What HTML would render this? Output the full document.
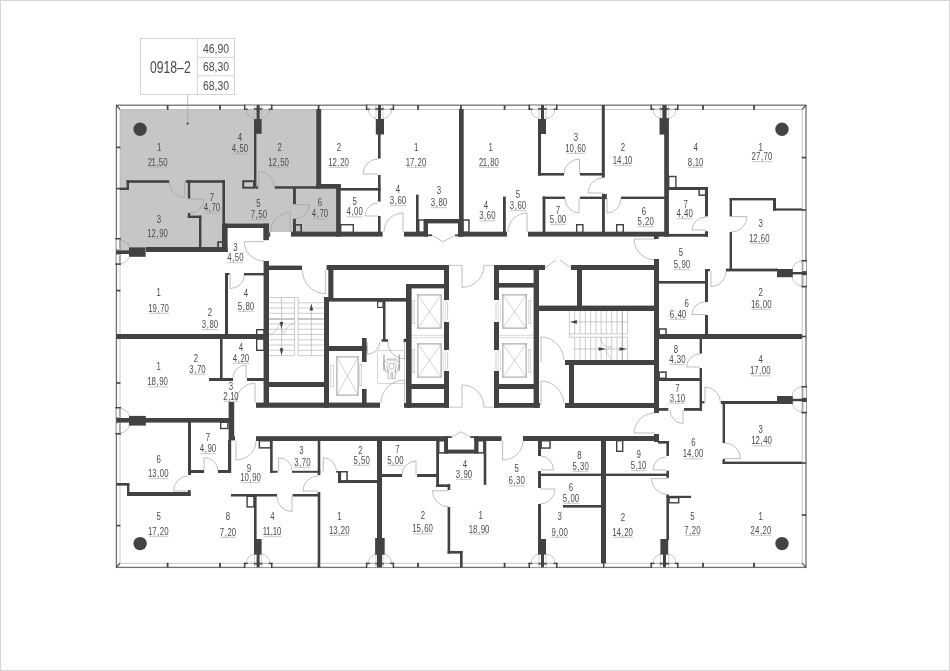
<!DOCTYPE html>
<html lang="ru"><head><meta charset="utf-8"><title>0918-2</title>
<style>
html,body{margin:0;padding:0;background:#fff;}
body{width:950px;height:671px;overflow:hidden;position:relative;font-family:"Liberation Sans",sans-serif;}
svg{position:absolute;left:0;top:0;display:block;will-change:transform;}
svg text{font-family:"Liberation Sans",sans-serif;}
</style></head><body>
<svg width="950" height="671" viewBox="0 0 950 671">
<rect x="0.0" y="0.0" width="950.0" height="671.0" fill="#ffffff"/>
<rect x="0.5" y="0.5" width="949" height="670" fill="none" stroke="#d4d4d4" stroke-width="1"/>
<path d="M120 109.4H317V186H336V232H268V224H226V248H130V250.6H120Z" fill="#c6c6c6"/>
<rect x="116.4" y="105.2" width="689.6" height="462.2" fill="none" stroke="#707070" stroke-width="1.3"/>
<rect x="120" y="109.4" width="682.2" height="453.80000000000007" fill="none" stroke="#b0b0b0" stroke-width="0.7"/>
<line x1="116.4" y1="105.2" x2="120.0" y2="109.4" stroke="#424242" stroke-width="1.2"/>
<line x1="806.0" y1="105.2" x2="802.2" y2="109.4" stroke="#424242" stroke-width="1.2"/>
<line x1="116.4" y1="567.4" x2="120.0" y2="563.2" stroke="#424242" stroke-width="1.2"/>
<line x1="806.0" y1="567.4" x2="802.2" y2="563.2" stroke="#424242" stroke-width="1.2"/>
<rect x="166.7" y="105.2" width="1.8" height="4.6" fill="#424242"/>
<rect x="166.7" y="562.8" width="1.8" height="4.6" fill="#424242"/>
<rect x="219.1" y="105.2" width="1.8" height="4.6" fill="#424242"/>
<rect x="219.1" y="562.8" width="1.8" height="4.6" fill="#424242"/>
<rect x="317.7" y="105.2" width="1.8" height="4.6" fill="#424242"/>
<rect x="317.7" y="562.8" width="1.8" height="4.6" fill="#424242"/>
<rect x="417.1" y="105.2" width="1.8" height="4.6" fill="#424242"/>
<rect x="417.1" y="562.8" width="1.8" height="4.6" fill="#424242"/>
<rect x="460.1" y="105.2" width="1.8" height="4.6" fill="#424242"/>
<rect x="460.1" y="562.8" width="1.8" height="4.6" fill="#424242"/>
<rect x="503.7" y="105.2" width="1.8" height="4.6" fill="#424242"/>
<rect x="503.7" y="562.8" width="1.8" height="4.6" fill="#424242"/>
<rect x="702.1" y="105.2" width="1.8" height="4.6" fill="#424242"/>
<rect x="702.1" y="562.8" width="1.8" height="4.6" fill="#424242"/>
<rect x="753.1" y="105.2" width="1.8" height="4.6" fill="#424242"/>
<rect x="753.1" y="562.8" width="1.8" height="4.6" fill="#424242"/>
<rect x="116.4" y="146.6" width="4.0" height="1.6" fill="#424242"/>
<rect x="116.4" y="187.8" width="4.0" height="1.6" fill="#424242"/>
<rect x="116.4" y="289.8" width="4.0" height="1.6" fill="#424242"/>
<rect x="116.4" y="335.2" width="4.0" height="1.6" fill="#424242"/>
<rect x="116.4" y="382.2" width="4.0" height="1.6" fill="#424242"/>
<rect x="116.4" y="483.2" width="4.0" height="1.6" fill="#424242"/>
<rect x="116.4" y="524.8" width="4.0" height="1.6" fill="#424242"/>
<rect x="801.8" y="156.8" width="4.2" height="1.6" fill="#424242"/>
<rect x="801.8" y="209.2" width="4.2" height="1.6" fill="#424242"/>
<rect x="801.8" y="335.7" width="4.2" height="1.6" fill="#424242"/>
<rect x="801.8" y="462.2" width="4.2" height="1.6" fill="#424242"/>
<rect x="801.8" y="514.2" width="4.2" height="1.6" fill="#424242"/>
<rect x="243.9" y="104.6" width="1.7" height="5.2" fill="#424242"/>
<rect x="270.8" y="104.6" width="1.7" height="5.2" fill="#424242"/>
<rect x="245.6" y="105.2" width="25.2" height="4.0" fill="#fff"/>
<rect x="245.6" y="108.8" width="25.2" height="1.0" fill="#b8b8b8"/>
<rect x="243.9" y="108.5" width="3.9" height="1.3" fill="#424242"/>
<rect x="268.6" y="108.5" width="3.9" height="1.3" fill="#424242"/>
<rect x="253.8" y="108.0" width="8.6" height="1.8" fill="#505050"/>
<rect x="245.6" y="104.6" width="25.2" height="1.0" fill="#9a9a9a"/>
<rect x="254.2" y="105.6" width="0.8" height="3.2" fill="#b0b0b0"/>
<rect x="261.2" y="105.6" width="0.8" height="3.2" fill="#b0b0b0"/>
<path d="M246.4 109.7A8.6 8.6 0 0 0 254.6 118.3" fill="none" stroke="#a0a0a0" stroke-width="0.6"/>
<path d="M270.0 109.7A8.6 8.6 0 0 1 261.6 118.3" fill="none" stroke="#a0a0a0" stroke-width="0.6"/>
<line x1="254.6" y1="109.7" x2="254.6" y2="119.3" stroke="#b0b0b0" stroke-width="0.6"/>
<line x1="261.6" y1="109.7" x2="261.6" y2="119.3" stroke="#b0b0b0" stroke-width="0.6"/>
<rect x="243.9" y="562.8" width="1.7" height="5.2" fill="#424242"/>
<rect x="270.8" y="562.8" width="1.7" height="5.2" fill="#424242"/>
<rect x="245.6" y="563.4" width="25.2" height="4.0" fill="#fff"/>
<rect x="245.6" y="562.8" width="25.2" height="1.0" fill="#b8b8b8"/>
<rect x="243.9" y="562.8" width="3.9" height="1.3" fill="#424242"/>
<rect x="268.6" y="562.8" width="3.9" height="1.3" fill="#424242"/>
<rect x="253.8" y="562.8" width="8.6" height="1.8" fill="#505050"/>
<rect x="245.6" y="567.0" width="25.2" height="1.0" fill="#9a9a9a"/>
<rect x="254.2" y="563.8" width="0.8" height="3.2" fill="#b0b0b0"/>
<rect x="261.2" y="563.8" width="0.8" height="3.2" fill="#b0b0b0"/>
<path d="M246.4 562.9000000000001A8.6 8.6 0 0 1 254.6 554.3" fill="none" stroke="#a0a0a0" stroke-width="0.6"/>
<path d="M270.0 562.9000000000001A8.6 8.6 0 0 0 261.6 554.3" fill="none" stroke="#a0a0a0" stroke-width="0.6"/>
<line x1="254.6" y1="562.9" x2="254.6" y2="553.3" stroke="#b0b0b0" stroke-width="0.6"/>
<line x1="261.6" y1="562.9" x2="261.6" y2="553.3" stroke="#b0b0b0" stroke-width="0.6"/>
<rect x="365.9" y="104.6" width="1.7" height="5.2" fill="#424242"/>
<rect x="392.4" y="104.6" width="1.7" height="5.2" fill="#424242"/>
<rect x="367.6" y="105.2" width="24.8" height="4.0" fill="#fff"/>
<rect x="367.6" y="108.8" width="24.8" height="1.0" fill="#b8b8b8"/>
<rect x="365.9" y="108.5" width="3.9" height="1.3" fill="#424242"/>
<rect x="390.2" y="108.5" width="3.9" height="1.3" fill="#424242"/>
<rect x="375.2" y="108.0" width="8.6" height="1.8" fill="#505050"/>
<rect x="367.6" y="104.6" width="24.8" height="1.0" fill="#9a9a9a"/>
<rect x="375.6" y="105.6" width="0.8" height="3.2" fill="#b0b0b0"/>
<rect x="382.6" y="105.6" width="0.8" height="3.2" fill="#b0b0b0"/>
<path d="M368.4 109.7A8.6 8.6 0 0 0 376.0 118.3" fill="none" stroke="#a0a0a0" stroke-width="0.6"/>
<path d="M391.6 109.7A8.6 8.6 0 0 1 383.0 118.3" fill="none" stroke="#a0a0a0" stroke-width="0.6"/>
<line x1="376.0" y1="109.7" x2="376.0" y2="119.3" stroke="#b0b0b0" stroke-width="0.6"/>
<line x1="383.0" y1="109.7" x2="383.0" y2="119.3" stroke="#b0b0b0" stroke-width="0.6"/>
<rect x="365.9" y="562.8" width="1.7" height="5.2" fill="#424242"/>
<rect x="392.4" y="562.8" width="1.7" height="5.2" fill="#424242"/>
<rect x="367.6" y="563.4" width="24.8" height="4.0" fill="#fff"/>
<rect x="367.6" y="562.8" width="24.8" height="1.0" fill="#b8b8b8"/>
<rect x="365.9" y="562.8" width="3.9" height="1.3" fill="#424242"/>
<rect x="390.2" y="562.8" width="3.9" height="1.3" fill="#424242"/>
<rect x="375.2" y="562.8" width="8.6" height="1.8" fill="#505050"/>
<rect x="367.6" y="567.0" width="24.8" height="1.0" fill="#9a9a9a"/>
<rect x="375.6" y="563.8" width="0.8" height="3.2" fill="#b0b0b0"/>
<rect x="382.6" y="563.8" width="0.8" height="3.2" fill="#b0b0b0"/>
<path d="M368.4 562.9000000000001A8.6 8.6 0 0 1 376.0 554.3" fill="none" stroke="#a0a0a0" stroke-width="0.6"/>
<path d="M391.6 562.9000000000001A8.6 8.6 0 0 0 383.0 554.3" fill="none" stroke="#a0a0a0" stroke-width="0.6"/>
<line x1="376.0" y1="562.9" x2="376.0" y2="553.3" stroke="#b0b0b0" stroke-width="0.6"/>
<line x1="383.0" y1="562.9" x2="383.0" y2="553.3" stroke="#b0b0b0" stroke-width="0.6"/>
<rect x="528.5" y="104.6" width="1.7" height="5.2" fill="#424242"/>
<rect x="555.8" y="104.6" width="1.7" height="5.2" fill="#424242"/>
<rect x="530.2" y="105.2" width="25.6" height="4.0" fill="#fff"/>
<rect x="530.2" y="108.8" width="25.6" height="1.0" fill="#b8b8b8"/>
<rect x="528.5" y="108.5" width="3.9" height="1.3" fill="#424242"/>
<rect x="553.6" y="108.5" width="3.9" height="1.3" fill="#424242"/>
<rect x="538.2" y="108.0" width="8.6" height="1.8" fill="#505050"/>
<rect x="530.2" y="104.6" width="25.6" height="1.0" fill="#9a9a9a"/>
<rect x="538.6" y="105.6" width="0.8" height="3.2" fill="#b0b0b0"/>
<rect x="545.6" y="105.6" width="0.8" height="3.2" fill="#b0b0b0"/>
<path d="M531.0 109.7A8.6 8.6 0 0 0 539.0 118.3" fill="none" stroke="#a0a0a0" stroke-width="0.6"/>
<path d="M555.0 109.7A8.6 8.6 0 0 1 546.0 118.3" fill="none" stroke="#a0a0a0" stroke-width="0.6"/>
<line x1="539.0" y1="109.7" x2="539.0" y2="119.3" stroke="#b0b0b0" stroke-width="0.6"/>
<line x1="546.0" y1="109.7" x2="546.0" y2="119.3" stroke="#b0b0b0" stroke-width="0.6"/>
<rect x="528.5" y="562.8" width="1.7" height="5.2" fill="#424242"/>
<rect x="555.8" y="562.8" width="1.7" height="5.2" fill="#424242"/>
<rect x="530.2" y="563.4" width="25.6" height="4.0" fill="#fff"/>
<rect x="530.2" y="562.8" width="25.6" height="1.0" fill="#b8b8b8"/>
<rect x="528.5" y="562.8" width="3.9" height="1.3" fill="#424242"/>
<rect x="553.6" y="562.8" width="3.9" height="1.3" fill="#424242"/>
<rect x="538.2" y="562.8" width="8.6" height="1.8" fill="#505050"/>
<rect x="530.2" y="567.0" width="25.6" height="1.0" fill="#9a9a9a"/>
<rect x="538.6" y="563.8" width="0.8" height="3.2" fill="#b0b0b0"/>
<rect x="545.6" y="563.8" width="0.8" height="3.2" fill="#b0b0b0"/>
<path d="M531.0 562.9000000000001A8.6 8.6 0 0 1 539.0 554.3" fill="none" stroke="#a0a0a0" stroke-width="0.6"/>
<path d="M555.0 562.9000000000001A8.6 8.6 0 0 0 546.0 554.3" fill="none" stroke="#a0a0a0" stroke-width="0.6"/>
<line x1="539.0" y1="562.9" x2="539.0" y2="553.3" stroke="#b0b0b0" stroke-width="0.6"/>
<line x1="546.0" y1="562.9" x2="546.0" y2="553.3" stroke="#b0b0b0" stroke-width="0.6"/>
<rect x="650.5" y="104.6" width="1.7" height="5.2" fill="#424242"/>
<rect x="676.8" y="104.6" width="1.7" height="5.2" fill="#424242"/>
<rect x="652.2" y="105.2" width="24.6" height="4.0" fill="#fff"/>
<rect x="652.2" y="108.8" width="24.6" height="1.0" fill="#b8b8b8"/>
<rect x="650.5" y="108.5" width="3.9" height="1.3" fill="#424242"/>
<rect x="674.6" y="108.5" width="3.9" height="1.3" fill="#424242"/>
<rect x="659.6" y="108.0" width="9.8" height="1.8" fill="#505050"/>
<rect x="652.2" y="104.6" width="24.6" height="1.0" fill="#9a9a9a"/>
<rect x="660.0" y="105.6" width="0.8" height="3.2" fill="#b0b0b0"/>
<rect x="668.2" y="105.6" width="0.8" height="3.2" fill="#b0b0b0"/>
<path d="M653.0 109.7A8.6 8.6 0 0 0 660.4 118.3" fill="none" stroke="#a0a0a0" stroke-width="0.6"/>
<path d="M676.0 109.7A8.6 8.6 0 0 1 668.6 118.3" fill="none" stroke="#a0a0a0" stroke-width="0.6"/>
<line x1="660.4" y1="109.7" x2="660.4" y2="119.3" stroke="#b0b0b0" stroke-width="0.6"/>
<line x1="668.6" y1="109.7" x2="668.6" y2="119.3" stroke="#b0b0b0" stroke-width="0.6"/>
<rect x="650.5" y="562.8" width="1.7" height="5.2" fill="#424242"/>
<rect x="676.8" y="562.8" width="1.7" height="5.2" fill="#424242"/>
<rect x="652.2" y="563.4" width="24.6" height="4.0" fill="#fff"/>
<rect x="652.2" y="562.8" width="24.6" height="1.0" fill="#b8b8b8"/>
<rect x="650.5" y="562.8" width="3.9" height="1.3" fill="#424242"/>
<rect x="674.6" y="562.8" width="3.9" height="1.3" fill="#424242"/>
<rect x="659.6" y="562.8" width="9.8" height="1.8" fill="#505050"/>
<rect x="652.2" y="567.0" width="24.6" height="1.0" fill="#9a9a9a"/>
<rect x="660.0" y="563.8" width="0.8" height="3.2" fill="#b0b0b0"/>
<rect x="668.2" y="563.8" width="0.8" height="3.2" fill="#b0b0b0"/>
<path d="M653.0 562.9000000000001A8.6 8.6 0 0 1 660.4 554.3" fill="none" stroke="#a0a0a0" stroke-width="0.6"/>
<path d="M676.0 562.9000000000001A8.6 8.6 0 0 0 668.6 554.3" fill="none" stroke="#a0a0a0" stroke-width="0.6"/>
<line x1="660.4" y1="562.9" x2="660.4" y2="553.3" stroke="#b0b0b0" stroke-width="0.6"/>
<line x1="668.6" y1="562.9" x2="668.6" y2="553.3" stroke="#b0b0b0" stroke-width="0.6"/>
<line x1="269.0" y1="297.5" x2="294.6" y2="297.5" stroke="#aaaaaa" stroke-width="0.6"/>
<line x1="269.0" y1="302.8" x2="294.6" y2="302.8" stroke="#aaaaaa" stroke-width="0.6"/>
<line x1="298.2" y1="302.8" x2="323.6" y2="302.8" stroke="#aaaaaa" stroke-width="0.6"/>
<line x1="269.0" y1="308.1" x2="294.6" y2="308.1" stroke="#aaaaaa" stroke-width="0.6"/>
<line x1="298.2" y1="308.1" x2="323.6" y2="308.1" stroke="#aaaaaa" stroke-width="0.6"/>
<line x1="269.0" y1="313.3" x2="294.6" y2="313.3" stroke="#aaaaaa" stroke-width="0.6"/>
<line x1="298.2" y1="313.3" x2="323.6" y2="313.3" stroke="#aaaaaa" stroke-width="0.6"/>
<line x1="269.0" y1="318.6" x2="294.6" y2="318.6" stroke="#aaaaaa" stroke-width="0.6"/>
<line x1="298.2" y1="318.6" x2="323.6" y2="318.6" stroke="#aaaaaa" stroke-width="0.6"/>
<line x1="269.0" y1="323.9" x2="294.6" y2="323.9" stroke="#aaaaaa" stroke-width="0.6"/>
<line x1="298.2" y1="323.9" x2="323.6" y2="323.9" stroke="#aaaaaa" stroke-width="0.6"/>
<line x1="269.0" y1="329.2" x2="294.6" y2="329.2" stroke="#aaaaaa" stroke-width="0.6"/>
<line x1="298.2" y1="329.2" x2="323.6" y2="329.2" stroke="#aaaaaa" stroke-width="0.6"/>
<line x1="269.0" y1="334.5" x2="294.6" y2="334.5" stroke="#aaaaaa" stroke-width="0.6"/>
<line x1="298.2" y1="334.5" x2="323.6" y2="334.5" stroke="#aaaaaa" stroke-width="0.6"/>
<line x1="269.0" y1="339.8" x2="294.6" y2="339.8" stroke="#aaaaaa" stroke-width="0.6"/>
<line x1="298.2" y1="339.8" x2="323.6" y2="339.8" stroke="#aaaaaa" stroke-width="0.6"/>
<line x1="269.0" y1="345.0" x2="294.6" y2="345.0" stroke="#aaaaaa" stroke-width="0.6"/>
<line x1="298.2" y1="345.0" x2="323.6" y2="345.0" stroke="#aaaaaa" stroke-width="0.6"/>
<line x1="269.0" y1="350.3" x2="294.6" y2="350.3" stroke="#aaaaaa" stroke-width="0.6"/>
<line x1="298.2" y1="350.3" x2="323.6" y2="350.3" stroke="#aaaaaa" stroke-width="0.6"/>
<line x1="269.0" y1="355.6" x2="294.6" y2="355.6" stroke="#aaaaaa" stroke-width="0.6"/>
<line x1="298.2" y1="355.6" x2="323.6" y2="355.6" stroke="#aaaaaa" stroke-width="0.6"/>
<line x1="294.6" y1="297.5" x2="298.2" y2="297.5" stroke="#aaaaaa" stroke-width="0.6"/>
<line x1="294.6" y1="297.5" x2="294.6" y2="355.6" stroke="#aaaaaa" stroke-width="0.6"/>
<line x1="298.2" y1="297.5" x2="298.2" y2="355.6" stroke="#aaaaaa" stroke-width="0.6"/>
<line x1="281.5" y1="297.5" x2="281.5" y2="355.6" stroke="#aaaaaa" stroke-width="0.6"/>
<line x1="311.4" y1="308.0" x2="311.4" y2="355.6" stroke="#aaaaaa" stroke-width="0.6"/>
<line x1="269.0" y1="319.3" x2="294.6" y2="319.3" stroke="#aaaaaa" stroke-width="0.8"/>
<line x1="298.2" y1="319.3" x2="323.6" y2="319.3" stroke="#aaaaaa" stroke-width="0.8"/>
<path d="M269.5 334.5Q277 332 278.5 326Q280 320 281.5 328Q283 336 284 333Q286 326 294.6 323.2" fill="none" stroke="#a0a0a0" stroke-width="0.5"/>
<polygon points="279.7,322.0 283.3,322.0 281.5,328.8" fill="#424242"/>
<polygon points="279.7,348.2 283.3,348.2 281.5,355.4" fill="#424242"/>
<polygon points="309.6,310.6 313.2,310.6 311.4,303.4" fill="#424242"/>
<line x1="569.4" y1="311.0" x2="569.4" y2="333.9" stroke="#aaaaaa" stroke-width="0.6"/>
<line x1="574.7" y1="311.0" x2="574.7" y2="333.9" stroke="#aaaaaa" stroke-width="0.6"/>
<line x1="574.7" y1="337.2" x2="574.7" y2="360.0" stroke="#aaaaaa" stroke-width="0.6"/>
<line x1="580.0" y1="311.0" x2="580.0" y2="333.9" stroke="#aaaaaa" stroke-width="0.6"/>
<line x1="580.0" y1="337.2" x2="580.0" y2="360.0" stroke="#aaaaaa" stroke-width="0.6"/>
<line x1="585.3" y1="311.0" x2="585.3" y2="333.9" stroke="#aaaaaa" stroke-width="0.6"/>
<line x1="585.3" y1="337.2" x2="585.3" y2="360.0" stroke="#aaaaaa" stroke-width="0.6"/>
<line x1="590.6" y1="311.0" x2="590.6" y2="333.9" stroke="#aaaaaa" stroke-width="0.6"/>
<line x1="590.6" y1="337.2" x2="590.6" y2="360.0" stroke="#aaaaaa" stroke-width="0.6"/>
<line x1="595.9" y1="311.0" x2="595.9" y2="333.9" stroke="#aaaaaa" stroke-width="0.6"/>
<line x1="595.9" y1="337.2" x2="595.9" y2="360.0" stroke="#aaaaaa" stroke-width="0.6"/>
<line x1="601.1" y1="311.0" x2="601.1" y2="333.9" stroke="#aaaaaa" stroke-width="0.6"/>
<line x1="601.1" y1="337.2" x2="601.1" y2="360.0" stroke="#aaaaaa" stroke-width="0.6"/>
<line x1="606.4" y1="311.0" x2="606.4" y2="333.9" stroke="#aaaaaa" stroke-width="0.6"/>
<line x1="606.4" y1="337.2" x2="606.4" y2="360.0" stroke="#aaaaaa" stroke-width="0.6"/>
<line x1="611.7" y1="311.0" x2="611.7" y2="333.9" stroke="#aaaaaa" stroke-width="0.6"/>
<line x1="611.7" y1="337.2" x2="611.7" y2="360.0" stroke="#aaaaaa" stroke-width="0.6"/>
<line x1="617.0" y1="311.0" x2="617.0" y2="333.9" stroke="#aaaaaa" stroke-width="0.6"/>
<line x1="617.0" y1="337.2" x2="617.0" y2="360.0" stroke="#aaaaaa" stroke-width="0.6"/>
<line x1="622.3" y1="311.0" x2="622.3" y2="333.9" stroke="#aaaaaa" stroke-width="0.6"/>
<line x1="622.3" y1="337.2" x2="622.3" y2="360.0" stroke="#aaaaaa" stroke-width="0.6"/>
<line x1="627.6" y1="311.0" x2="627.6" y2="333.9" stroke="#aaaaaa" stroke-width="0.6"/>
<line x1="627.6" y1="337.2" x2="627.6" y2="360.0" stroke="#aaaaaa" stroke-width="0.6"/>
<line x1="569.4" y1="333.9" x2="627.6" y2="333.9" stroke="#aaaaaa" stroke-width="0.6"/>
<line x1="569.4" y1="337.2" x2="627.6" y2="337.2" stroke="#aaaaaa" stroke-width="0.6"/>
<line x1="569.4" y1="333.9" x2="569.4" y2="337.2" stroke="#aaaaaa" stroke-width="0.6"/>
<line x1="577.0" y1="321.9" x2="627.6" y2="321.9" stroke="#aaaaaa" stroke-width="0.6"/>
<line x1="574.3" y1="349.0" x2="627.6" y2="349.0" stroke="#aaaaaa" stroke-width="0.6"/>
<line x1="622.3" y1="311.0" x2="622.3" y2="360.0" stroke="#aaaaaa" stroke-width="0.9"/>
<path d="M600.2 337.2Q602 343 604 345.5Q608 347.5 611.6 346.4Q607 349 605.8 351Q609 354 611 360" fill="none" stroke="#a0a0a0" stroke-width="0.5"/>
<polygon points="576.9,320.1 576.9,323.7 569.9,321.9" fill="#424242"/>
<polygon points="598.6,347.2 598.6,350.8 605.9,349.0" fill="#424242"/>
<polygon points="619.5,347.2 619.5,350.8 626.8,349.0" fill="#424242"/>
<rect x="417.30" y="294.30" width="24.40" height="34.40" fill="none" stroke="#9a9a9a" stroke-width="0.6"/>
<rect x="418.25" y="295.25" width="22.50" height="32.50" fill="none" stroke="#b0b0b0" stroke-width="0.5"/>
<line x1="418.0" y1="295.0" x2="441.0" y2="328.0" stroke="#a5a5a5" stroke-width="0.5"/>
<line x1="441.0" y1="295.0" x2="418.0" y2="328.0" stroke="#a5a5a5" stroke-width="0.5"/>
<rect x="417.30" y="343.30" width="24.40" height="34.40" fill="none" stroke="#9a9a9a" stroke-width="0.6"/>
<rect x="418.25" y="344.25" width="22.50" height="32.50" fill="none" stroke="#b0b0b0" stroke-width="0.5"/>
<line x1="418.0" y1="344.0" x2="441.0" y2="377.0" stroke="#a5a5a5" stroke-width="0.5"/>
<line x1="441.0" y1="344.0" x2="418.0" y2="377.0" stroke="#a5a5a5" stroke-width="0.5"/>
<rect x="502.30" y="294.30" width="24.40" height="34.40" fill="none" stroke="#9a9a9a" stroke-width="0.6"/>
<rect x="503.25" y="295.25" width="22.50" height="32.50" fill="none" stroke="#b0b0b0" stroke-width="0.5"/>
<line x1="503.0" y1="295.0" x2="526.0" y2="328.0" stroke="#a5a5a5" stroke-width="0.5"/>
<line x1="526.0" y1="295.0" x2="503.0" y2="328.0" stroke="#a5a5a5" stroke-width="0.5"/>
<rect x="502.30" y="343.30" width="24.40" height="34.40" fill="none" stroke="#9a9a9a" stroke-width="0.6"/>
<rect x="503.25" y="344.25" width="22.50" height="32.50" fill="none" stroke="#b0b0b0" stroke-width="0.5"/>
<line x1="503.0" y1="344.0" x2="526.0" y2="377.0" stroke="#a5a5a5" stroke-width="0.5"/>
<line x1="526.0" y1="344.0" x2="503.0" y2="377.0" stroke="#a5a5a5" stroke-width="0.5"/>
<rect x="336.30" y="356.30" width="22.40" height="39.40" fill="none" stroke="#9a9a9a" stroke-width="0.6"/>
<rect x="337.25" y="357.25" width="20.50" height="37.50" fill="none" stroke="#b0b0b0" stroke-width="0.5"/>
<line x1="337.0" y1="357.0" x2="358.0" y2="395.0" stroke="#a5a5a5" stroke-width="0.5"/>
<line x1="358.0" y1="357.0" x2="337.0" y2="395.0" stroke="#a5a5a5" stroke-width="0.5"/>
<line x1="411.6" y1="335.4" x2="444.0" y2="335.4" stroke="#b4b4b4" stroke-width="0.5"/>
<line x1="411.6" y1="337.6" x2="444.0" y2="337.6" stroke="#b4b4b4" stroke-width="0.5"/>
<line x1="499.0" y1="335.4" x2="534.0" y2="335.4" stroke="#b4b4b4" stroke-width="0.5"/>
<line x1="499.0" y1="337.6" x2="534.0" y2="337.6" stroke="#b4b4b4" stroke-width="0.5"/>
<rect x="330.85" y="365.25" width="2.90" height="21.50" fill="none" stroke="#b0b0b0" stroke-width="0.5"/>
<rect x="412.85" y="300.25" width="1.90" height="23.50" fill="none" stroke="#b0b0b0" stroke-width="0.5"/>
<rect x="412.85" y="349.25" width="1.90" height="23.50" fill="none" stroke="#b0b0b0" stroke-width="0.5"/>
<rect x="528.85" y="300.25" width="1.90" height="23.50" fill="none" stroke="#b0b0b0" stroke-width="0.5"/>
<rect x="528.85" y="349.25" width="1.90" height="23.50" fill="none" stroke="#b0b0b0" stroke-width="0.5"/>
<rect x="359.85" y="364.25" width="1.50" height="21.50" fill="none" stroke="#b0b0b0" stroke-width="0.5"/>
<path d="M444.9 299.8L447.6 303.0V318.6L444.9 321.8" fill="none" stroke="#a8a8a8" stroke-width="0.6"/>
<path d="M443.2 300.8V320.8M445.3 302.2V319.40000000000003" fill="none" stroke="#bcbcbc" stroke-width="0.5"/>
<path d="M444.9 350.2L447.6 353.4V368.0L444.9 371.2" fill="none" stroke="#a8a8a8" stroke-width="0.6"/>
<path d="M443.2 351.2V370.2M445.3 352.59999999999997V368.8" fill="none" stroke="#bcbcbc" stroke-width="0.5"/>
<path d="M498.7 301.4L496 304.59999999999997V318.8L498.7 322" fill="none" stroke="#a8a8a8" stroke-width="0.6"/>
<path d="M500.4 302.4V321M498.3 303.79999999999995V319.6" fill="none" stroke="#bcbcbc" stroke-width="0.5"/>
<path d="M498.7 350.3L496 353.5V368.6L498.7 371.8" fill="none" stroke="#a8a8a8" stroke-width="0.6"/>
<path d="M500.4 351.3V370.8M498.3 352.7V369.40000000000003" fill="none" stroke="#bcbcbc" stroke-width="0.5"/>
<rect x="377.75" y="350.75" width="26.60" height="32.80" fill="none" stroke="#b0b0b0" stroke-width="0.5"/>
<path d="M184.6 181.0L184.6 197.6A15.5 16.6 0 0 1 169.1 182.4" fill="none" stroke="#a0a0a0" stroke-width="0.7"/>
<path d="M190.0 199.0L204.0 199.0A14.0 14.0 0 0 1 190.0 213.0" fill="none" stroke="#a0a0a0" stroke-width="0.7"/>
<path d="M258.7 187.0L258.7 171.6A15.9 15.4 0 0 1 274.6 187.0" fill="none" stroke="#a0a0a0" stroke-width="0.7"/>
<path d="M295.0 204.6L309.4 204.6A14.4 14.0 0 0 1 295.0 218.6" fill="none" stroke="#a0a0a0" stroke-width="0.7"/>
<path d="M264.0 241.6L244.3 241.6A19.7 19.4 0 0 0 264.0 261.0" fill="none" stroke="#a0a0a0" stroke-width="0.7"/>
<path d="M290.2 232.0L290.2 212.4A19.6 19.6 0 0 0 270.6 232.0" fill="none" stroke="#a0a0a0" stroke-width="0.7"/>
<path d="M230.1 275.0L230.1 288.5A14.4 13.5 0 0 0 244.5 274.6" fill="none" stroke="#a0a0a0" stroke-width="0.7"/>
<path d="M378.0 174.0L363.0 174.0A15.0 15.0 0 0 1 378.0 159.0" fill="none" stroke="#a0a0a0" stroke-width="0.7"/>
<path d="M378.0 216.0L365.0 216.0A13.0 13.0 0 0 1 378.0 203.0" fill="none" stroke="#a0a0a0" stroke-width="0.7"/>
<path d="M403.0 232.0L403.0 213.0A19.0 19.0 0 0 0 384.0 232.0" fill="none" stroke="#a0a0a0" stroke-width="0.7"/>
<path d="M527.0 232.0L527.0 213.0A19.0 19.0 0 0 0 508.0 232.0" fill="none" stroke="#a0a0a0" stroke-width="0.7"/>
<path d="M579.5 174.0L579.5 159.0A15.5 15.0 0 0 0 564.0 174.0" fill="none" stroke="#a0a0a0" stroke-width="0.7"/>
<path d="M603.0 193.0L588.0 193.0A15.0 15.0 0 0 1 603.0 178.0" fill="none" stroke="#a0a0a0" stroke-width="0.7"/>
<path d="M579.0 198.0L579.0 213.0A14.0 15.0 0 0 1 565.0 198.0" fill="none" stroke="#a0a0a0" stroke-width="0.7"/>
<path d="M607.0 198.0L607.0 213.0A14.0 15.0 0 0 0 621.0 198.0" fill="none" stroke="#a0a0a0" stroke-width="0.7"/>
<path d="M656.0 239.0L634.0 239.0A22.0 21.0 0 0 0 656.0 260.0" fill="none" stroke="#a0a0a0" stroke-width="0.7"/>
<path d="M706.0 230.0L692.0 230.0A14.0 13.0 0 0 1 706.0 217.0" fill="none" stroke="#a0a0a0" stroke-width="0.7"/>
<path d="M731.0 216.6L747.0 216.6A16.0 15.4 0 0 1 731.0 232.0" fill="none" stroke="#a0a0a0" stroke-width="0.7"/>
<path d="M711.0 271.0L711.0 286.5A15.0 15.5 0 0 0 726.0 270.5" fill="none" stroke="#a0a0a0" stroke-width="0.7"/>
<path d="M705.0 314.6L692.0 314.6A13.0 12.6 0 0 1 705.0 302.0" fill="none" stroke="#a0a0a0" stroke-width="0.7"/>
<path d="M700.0 367.0L686.6 367.0A13.4 13.0 0 0 1 700.0 354.0" fill="none" stroke="#a0a0a0" stroke-width="0.7"/>
<path d="M705.0 403.0L705.0 387.0A15.6 16.0 0 0 1 720.6 403.0" fill="none" stroke="#a0a0a0" stroke-width="0.7"/>
<path d="M724.0 458.6L740.6 458.6A16.6 15.6 0 0 0 724.0 443.0" fill="none" stroke="#a0a0a0" stroke-width="0.7"/>
<path d="M683.0 410.0L683.0 423.4A13.0 13.4 0 0 1 670.0 410.0" fill="none" stroke="#a0a0a0" stroke-width="0.7"/>
<path d="M655.0 433.0L634.0 433.0A21.0 20.0 0 0 1 655.0 413.0" fill="none" stroke="#a0a0a0" stroke-width="0.7"/>
<path d="M666.0 470.0L653.0 470.0A13.0 13.0 0 0 1 666.0 457.0" fill="none" stroke="#a0a0a0" stroke-width="0.7"/>
<path d="M667.5 478.6L651.3 478.6A16.2 15.8 0 0 0 667.5 494.4" fill="none" stroke="#a0a0a0" stroke-width="0.7"/>
<path d="M541.0 470.0L553.4 470.0A12.4 14.0 0 0 0 541.0 456.0" fill="none" stroke="#a0a0a0" stroke-width="0.7"/>
<path d="M540.0 489.0L555.0 489.0A15.0 15.0 0 0 1 540.0 504.0" fill="none" stroke="#a0a0a0" stroke-width="0.7"/>
<path d="M502.6 441.0L502.6 460.0A20.4 19.0 0 0 0 523.0 441.0" fill="none" stroke="#a0a0a0" stroke-width="0.7"/>
<path d="M448.5 490.7L432.5 490.7A16.0 16.1 0 0 0 448.5 506.8" fill="none" stroke="#a0a0a0" stroke-width="0.7"/>
<path d="M416.0 475.0L416.0 461.0A14.0 14.0 0 0 0 402.0 475.0" fill="none" stroke="#a0a0a0" stroke-width="0.7"/>
<path d="M323.2 472.0L323.2 457.8A13.4 14.2 0 0 1 336.6 471.4" fill="none" stroke="#a0a0a0" stroke-width="0.7"/>
<path d="M318.0 491.0L303.0 491.0A15.0 15.0 0 0 1 318.0 476.0" fill="none" stroke="#a0a0a0" stroke-width="0.7"/>
<path d="M292.0 496.5L292.0 511.5A15.0 15.0 0 0 1 277.0 496.5" fill="none" stroke="#a0a0a0" stroke-width="0.7"/>
<path d="M278.6 471.5L278.6 457.7A13.8 13.8 0 0 1 292.4 471.5" fill="none" stroke="#a0a0a0" stroke-width="0.7"/>
<path d="M236.0 441.0L236.0 460.0A20.0 19.0 0 0 0 256.0 441.0" fill="none" stroke="#a0a0a0" stroke-width="0.7"/>
<path d="M204.0 471.0L204.0 457.6A14.0 13.4 0 0 1 218.0 471.0" fill="none" stroke="#a0a0a0" stroke-width="0.7"/>
<path d="M188.0 491.0L173.6 491.0A14.4 15.0 0 0 1 188.0 476.0" fill="none" stroke="#a0a0a0" stroke-width="0.7"/>
<path d="M255.0 403.0L255.0 383.0A19.0 20.0 0 0 0 236.0 401.0" fill="none" stroke="#a0a0a0" stroke-width="0.7"/>
<path d="M246.0 378.0L246.0 365.0A13.0 13.0 0 0 0 233.0 378.0" fill="none" stroke="#a0a0a0" stroke-width="0.7"/>
<path d="M325.4 270.0L325.4 293.7A23.0 23.7 0 0 1 302.4 270.0" fill="none" stroke="#a0a0a0" stroke-width="0.7"/>
<path d="M462.0 265.4L462.0 287.4A22.0 22.0 0 0 0 484.0 265.4" fill="none" stroke="#a0a0a0" stroke-width="0.7"/>
<path d="M462.0 407.2L462.0 385.0A22.0 22.2 0 0 1 484.0 407.2" fill="none" stroke="#a0a0a0" stroke-width="0.7"/>
<path d="M541.0 362.0L541.0 337.0A23.0 25.0 0 0 1 564.0 360.0" fill="none" stroke="#a0a0a0" stroke-width="0.7"/>
<path d="M541.0 405.0L541.0 381.0A23.0 24.0 0 0 1 564.0 403.0" fill="none" stroke="#a0a0a0" stroke-width="0.7"/>
<path d="M367.4 342.0L367.4 354.3A12.3 12.3 0 0 0 379.7 342.0" fill="none" stroke="#a0a0a0" stroke-width="0.7"/>
<path d="M404.6 342.0L404.6 358.8A16.8 16.8 0 0 1 387.8 342.0" fill="none" stroke="#a0a0a0" stroke-width="0.7"/>
<path d="M404.6 403.0L404.6 380.0A23.6 23.0 0 0 0 381.0 403.0" fill="none" stroke="#a0a0a0" stroke-width="0.7"/>
<line x1="449.0" y1="407.2" x2="462.0" y2="407.2" stroke="#a0a0a0" stroke-width="0.6"/>
<ellipse cx="391.6" cy="366.1" rx="2.5" ry="3.2" fill="#fff" stroke="#8e8e8e" stroke-width="0.6"/>
<line x1="384.0" y1="354.7" x2="384.0" y2="370.8" stroke="#8e8e8e" stroke-width="1.0"/>
<line x1="399.2" y1="354.7" x2="399.2" y2="370.8" stroke="#8e8e8e" stroke-width="1.0"/>
<rect x="387.25" y="358.95" width="9.30" height="1.10" fill="none" stroke="#8e8e8e" stroke-width="0.5"/>
<path d="M382.6 362.8L385.6 361L389 364.4M400.6 362.8L397.6 361L394.2 364.4M383.4 363.8L386.6 373.2M399.8 363.8L396.6 373.2M386.6 364.6L388.2 372" fill="none" stroke="#8e8e8e" stroke-width="0.6"/>
<path d="M396.6 364.6L395 372" fill="none" stroke="#8e8e8e" stroke-width="0.6"/>
<path d="M388.2 369.4V378.8H391V372.6H392.4V378.8H395.2V369.4" fill="none" stroke="#8e8e8e" stroke-width="0.6"/>
<path d="M431.6 235.2L443.2 241.8L455.4 235.2" fill="none" stroke="#a4a4a4" stroke-width="0.7"/>
<rect x="428.0" y="234.4" width="4.0" height="1.8" fill="#424242"/>
<rect x="455.0" y="234.4" width="4.0" height="1.8" fill="#424242"/>
<path d="M451.6 437.2L461 431.7L470.5 437.2" fill="none" stroke="#a4a4a4" stroke-width="0.7"/>
<rect x="448.0" y="436.2" width="3.8" height="1.8" fill="#424242"/>
<rect x="470.3" y="436.2" width="3.9" height="1.8" fill="#424242"/>
<path d="M545 268L556 260" fill="none" stroke="#a4a4a4" stroke-width="0.7"/>
<path d="M560 260L571 268" fill="none" stroke="#a4a4a4" stroke-width="0.7"/>
<line x1="484.0" y1="265.4" x2="494.0" y2="265.4" stroke="#a0a0a0" stroke-width="0.6"/>
<line x1="484.0" y1="407.2" x2="494.0" y2="407.2" stroke="#a0a0a0" stroke-width="0.6"/>
<line x1="449.0" y1="265.4" x2="462.0" y2="265.4" stroke="#a0a0a0" stroke-width="0.6"/>
<rect x="116.15" y="238.35" width="4.10" height="11.30" fill="#fff" stroke="#8a8a8a" stroke-width="0.7"/>
<rect x="115.4" y="238.0" width="5.6" height="1.5" fill="#424242"/>
<line x1="119.4" y1="239.5" x2="119.4" y2="248.5" stroke="#8a8a8a" stroke-width="0.8"/>
<rect x="116.15" y="254.35" width="4.10" height="10.10" fill="#fff" stroke="#8a8a8a" stroke-width="0.7"/>
<rect x="115.4" y="263.3" width="5.6" height="1.5" fill="#424242"/>
<line x1="119.4" y1="255.5" x2="119.4" y2="263.3" stroke="#8a8a8a" stroke-width="0.8"/>
<rect x="116.15" y="407.35" width="4.10" height="10.30" fill="#fff" stroke="#8a8a8a" stroke-width="0.7"/>
<rect x="115.4" y="407.0" width="5.6" height="1.5" fill="#424242"/>
<line x1="119.4" y1="408.5" x2="119.4" y2="416.5" stroke="#8a8a8a" stroke-width="0.8"/>
<rect x="116.15" y="422.95" width="4.10" height="11.20" fill="#fff" stroke="#8a8a8a" stroke-width="0.7"/>
<rect x="115.4" y="433.0" width="5.6" height="1.5" fill="#424242"/>
<line x1="119.4" y1="424.1" x2="119.4" y2="433.0" stroke="#8a8a8a" stroke-width="0.8"/>
<rect x="802.15" y="260.35" width="4.10" height="11.30" fill="#fff" stroke="#8a8a8a" stroke-width="0.7"/>
<rect x="801.4" y="260.0" width="5.6" height="1.5" fill="#424242"/>
<line x1="803.0" y1="261.5" x2="803.0" y2="270.5" stroke="#8a8a8a" stroke-width="0.8"/>
<rect x="802.15" y="274.75" width="4.10" height="12.20" fill="#fff" stroke="#8a8a8a" stroke-width="0.7"/>
<rect x="801.4" y="285.8" width="5.6" height="1.5" fill="#424242"/>
<line x1="803.0" y1="275.9" x2="803.0" y2="285.8" stroke="#8a8a8a" stroke-width="0.8"/>
<rect x="802.15" y="386.35" width="4.10" height="12.10" fill="#fff" stroke="#8a8a8a" stroke-width="0.7"/>
<rect x="801.4" y="386.0" width="5.6" height="1.5" fill="#424242"/>
<line x1="803.0" y1="387.5" x2="803.0" y2="397.3" stroke="#8a8a8a" stroke-width="0.8"/>
<rect x="802.15" y="401.55" width="4.10" height="11.40" fill="#fff" stroke="#8a8a8a" stroke-width="0.7"/>
<rect x="801.4" y="411.8" width="5.6" height="1.5" fill="#424242"/>
<line x1="803.0" y1="402.7" x2="803.0" y2="411.8" stroke="#8a8a8a" stroke-width="0.8"/>
<path d="M120.6 240A9.5 9.5 0 0 1 129.6 250" fill="none" stroke="#a0a0a0" stroke-width="0.6"/>
<path d="M120.6 263.6A9.5 9.5 0 0 0 129.6 254" fill="none" stroke="#a0a0a0" stroke-width="0.6"/>
<path d="M120.6 408.6A9.5 9.5 0 0 1 129.6 418" fill="none" stroke="#a0a0a0" stroke-width="0.6"/>
<path d="M120.6 433A9.5 9.5 0 0 0 129.4 423.4" fill="none" stroke="#a0a0a0" stroke-width="0.6"/>
<path d="M802 261A10 10 0 0 0 792 270" fill="none" stroke="#a0a0a0" stroke-width="0.6"/>
<path d="M802 285.6A10 10 0 0 1 792 277" fill="none" stroke="#a0a0a0" stroke-width="0.6"/>
<path d="M802 387A10 10 0 0 0 792 396" fill="none" stroke="#a0a0a0" stroke-width="0.6"/>
<path d="M802 411.6A10 10 0 0 1 792 403" fill="none" stroke="#a0a0a0" stroke-width="0.6"/>
<rect x="256.6" y="105.0" width="3.0" height="14.0" fill="#424242"/>
<rect x="254.0" y="119.0" width="7.6" height="14.8" fill="#424242"/>
<rect x="254.0" y="133.0" width="2.4" height="55.4" fill="#424242"/>
<rect x="243.20" y="181.20" width="10.80" height="6.50" fill="none" stroke="#424242" stroke-width="2.0"/>
<rect x="256.0" y="186.4" width="2.2" height="2.3" fill="#424242"/>
<rect x="274.8" y="186.2" width="42.2" height="2.5" fill="#424242"/>
<rect x="120.0" y="187.6" width="8.6" height="2.4" fill="#424242"/>
<rect x="126.6" y="180.2" width="2.4" height="9.8" fill="#424242"/>
<rect x="126.6" y="180.2" width="42.6" height="2.6" fill="#424242"/>
<rect x="185.8" y="180.2" width="39.2" height="2.6" fill="#424242"/>
<rect x="222.4" y="180.2" width="2.6" height="71.8" fill="#424242"/>
<rect x="187.8" y="180.2" width="2.4" height="18.4" fill="#424242"/>
<rect x="187.8" y="215.6" width="13.6" height="2.4" fill="#424242"/>
<rect x="199.0" y="215.6" width="2.4" height="32.4" fill="#424242"/>
<rect x="187.8" y="213.0" width="2.4" height="5.0" fill="#424242"/>
<rect x="116.0" y="250.3" width="14.0" height="3.7" fill="#424242"/>
<rect x="129.0" y="247.4" width="16.6" height="9.4" fill="#424242"/>
<rect x="146.0" y="247.0" width="81.6" height="5.0" fill="#424242"/>
<rect x="218.05" y="242.05" width="5.10" height="5.90" fill="#c6c6c6" stroke="#424242" stroke-width="1.7"/>
<rect x="222.0" y="223.6" width="5.6" height="28.4" fill="#424242"/>
<rect x="224.6" y="223.6" width="44.3" height="4.4" fill="#424242"/>
<rect x="263.3" y="223.6" width="5.6" height="16.6" fill="#424242"/>
<rect x="268.9" y="232.3" width="1.3" height="4.5" fill="#424242"/>
<rect x="293.0" y="188.0" width="2.9" height="16.2" fill="#424242"/>
<rect x="293.0" y="218.8" width="2.9" height="17.2" fill="#424242"/>
<rect x="294.80" y="224.80" width="6.40" height="7.40" fill="none" stroke="#424242" stroke-width="1.6"/>
<rect x="316.3" y="109.0" width="4.9" height="79.7" fill="#424242"/>
<rect x="316.3" y="184.0" width="24.4" height="4.7" fill="#424242"/>
<rect x="336.1" y="184.0" width="4.6" height="52.6" fill="#424242"/>
<rect x="291.0" y="231.7" width="91.6" height="4.9" fill="#424242"/>
<rect x="340.0" y="188.0" width="40.6" height="2.6" fill="#424242"/>
<rect x="378.0" y="105.0" width="3.0" height="14.0" fill="#424242"/>
<rect x="375.8" y="119.0" width="8.2" height="15.5" fill="#424242"/>
<rect x="378.0" y="134.0" width="2.6" height="24.6" fill="#424242"/>
<rect x="378.0" y="175.0" width="2.6" height="26.6" fill="#424242"/>
<rect x="378.0" y="216.0" width="2.6" height="17.0" fill="#424242"/>
<rect x="340.70" y="224.70" width="12.60" height="7.60" fill="#fff" stroke="#424242" stroke-width="1.4"/>
<rect x="416.0" y="194.6" width="2.6" height="38.4" fill="#424242"/>
<rect x="418.75" y="220.05" width="5.50" height="12.20" fill="#fff" stroke="#424242" stroke-width="1.5"/>
<rect x="462.75" y="220.05" width="6.20" height="12.20" fill="#fff" stroke="#424242" stroke-width="1.5"/>
<rect x="424.0" y="219.0" width="38.6" height="4.4" fill="#424242"/>
<rect x="424.0" y="219.0" width="4.0" height="17.6" fill="#424242"/>
<rect x="458.0" y="219.0" width="4.6" height="17.6" fill="#424242"/>
<rect x="404.0" y="231.7" width="24.0" height="4.9" fill="#424242"/>
<rect x="458.0" y="231.7" width="49.0" height="4.9" fill="#424242"/>
<rect x="459.0" y="109.0" width="4.7" height="127.6" fill="#424242"/>
<rect x="503.0" y="196.6" width="2.8" height="36.4" fill="#424242"/>
<rect x="528.0" y="231.7" width="140.9" height="4.9" fill="#424242"/>
<rect x="541.0" y="105.0" width="3.0" height="14.0" fill="#424242"/>
<rect x="538.0" y="119.0" width="8.0" height="15.0" fill="#424242"/>
<rect x="538.0" y="134.0" width="3.0" height="41.6" fill="#424242"/>
<rect x="538.0" y="173.0" width="26.0" height="2.6" fill="#424242"/>
<rect x="580.0" y="173.0" width="24.6" height="2.6" fill="#424242"/>
<rect x="601.8" y="105.0" width="3.0" height="72.6" fill="#424242"/>
<rect x="602.0" y="193.8" width="2.9" height="39.2" fill="#424242"/>
<rect x="602.0" y="194.0" width="4.8" height="5.2" fill="#424242"/>
<rect x="542.6" y="196.6" width="22.4" height="2.4" fill="#424242"/>
<rect x="580.0" y="196.6" width="24.0" height="2.4" fill="#424242"/>
<rect x="542.6" y="196.6" width="2.8" height="36.4" fill="#424242"/>
<rect x="621.0" y="196.6" width="45.0" height="2.4" fill="#424242"/>
<rect x="576.70" y="224.70" width="6.20" height="7.60" fill="#fff" stroke="#424242" stroke-width="1.4"/>
<rect x="616.70" y="224.70" width="6.60" height="7.60" fill="#fff" stroke="#424242" stroke-width="1.4"/>
<rect x="662.4" y="105.0" width="4.2" height="14.0" fill="#424242"/>
<rect x="659.5" y="118.1" width="9.4" height="16.5" fill="#424242"/>
<rect x="664.2" y="134.0" width="4.7" height="102.6" fill="#424242"/>
<rect x="668.70" y="176.50" width="7.20" height="11.40" fill="#fff" stroke="#424242" stroke-width="1.4"/>
<rect x="667.0" y="187.0" width="41.0" height="3.0" fill="#424242"/>
<rect x="705.0" y="187.0" width="3.0" height="29.4" fill="#424242"/>
<rect x="705.0" y="231.2" width="3.0" height="5.5" fill="#424242"/>
<rect x="667.0" y="233.9" width="41.0" height="2.8" fill="#424242"/>
<rect x="699.15" y="189.15" width="6.50" height="6.00" fill="#fff" stroke="#424242" stroke-width="1.5"/>
<rect x="729.6" y="198.0" width="2.4" height="18.4" fill="#424242"/>
<rect x="729.6" y="198.0" width="46.4" height="2.4" fill="#424242"/>
<rect x="773.0" y="198.0" width="3.0" height="12.6" fill="#424242"/>
<rect x="773.0" y="208.4" width="29.0" height="2.2" fill="#424242"/>
<rect x="729.6" y="232.0" width="2.4" height="39.0" fill="#424242"/>
<rect x="726.0" y="268.6" width="52.0" height="2.8" fill="#424242"/>
<rect x="777.0" y="269.0" width="15.8" height="8.2" fill="#424242"/>
<rect x="792.0" y="272.0" width="14.0" height="2.4" fill="#424242"/>
<rect x="801.8" y="271.2" width="5.0" height="4.0" fill="#424242"/>
<rect x="705.0" y="269.0" width="3.0" height="33.0" fill="#424242"/>
<rect x="705.0" y="315.0" width="3.0" height="20.0" fill="#424242"/>
<rect x="705.0" y="269.0" width="5.0" height="2.2" fill="#424242"/>
<rect x="658.0" y="281.0" width="48.0" height="2.6" fill="#424242"/>
<rect x="659.0" y="334.0" width="143.0" height="5.0" fill="#424242"/>
<rect x="699.6" y="339.0" width="2.4" height="14.6" fill="#424242"/>
<rect x="699.6" y="368.0" width="2.4" height="42.6" fill="#424242"/>
<rect x="659.0" y="378.0" width="41.0" height="3.0" fill="#424242"/>
<rect x="684.0" y="408.0" width="18.0" height="2.8" fill="#424242"/>
<rect x="658.6" y="408.0" width="9.7" height="2.8" fill="#424242"/>
<rect x="702.0" y="401.2" width="2.4" height="2.2" fill="#424242"/>
<rect x="721.0" y="401.0" width="57.0" height="3.0" fill="#424242"/>
<rect x="777.0" y="396.0" width="15.8" height="8.0" fill="#424242"/>
<rect x="792.0" y="398.8" width="14.0" height="2.4" fill="#424242"/>
<rect x="801.8" y="397.8" width="5.0" height="4.2" fill="#424242"/>
<rect x="722.6" y="403.0" width="2.4" height="40.0" fill="#424242"/>
<rect x="722.6" y="459.0" width="2.4" height="5.0" fill="#424242"/>
<rect x="722.6" y="461.6" width="79.4" height="2.4" fill="#424242"/>
<rect x="666.5" y="495.8" width="24.5" height="2.2" fill="#424242"/>
<rect x="669.10" y="497.70" width="9.60" height="5.10" fill="#fff" stroke="#424242" stroke-width="1.4"/>
<rect x="654.0" y="259.0" width="5.0" height="154.0" fill="#424242"/>
<rect x="571.0" y="265.0" width="85.0" height="5.0" fill="#424242"/>
<rect x="577.0" y="270.0" width="5.0" height="36.0" fill="#424242"/>
<rect x="538.0" y="305.6" width="118.0" height="5.4" fill="#424242"/>
<rect x="565.0" y="360.0" width="91.0" height="5.0" fill="#424242"/>
<rect x="569.0" y="365.0" width="5.0" height="38.0" fill="#424242"/>
<rect x="565.0" y="403.0" width="94.0" height="5.0" fill="#424242"/>
<rect x="659.15" y="328.95" width="6.90" height="5.90" fill="#fff" stroke="#424242" stroke-width="1.5"/>
<rect x="659.15" y="372.15" width="6.90" height="6.10" fill="#fff" stroke="#424242" stroke-width="1.5"/>
<rect x="654.0" y="236.0" width="4.6" height="3.0" fill="#424242"/>
<rect x="326.6" y="265.0" width="122.4" height="5.0" fill="#424242"/>
<rect x="328.3" y="265.0" width="5.1" height="34.0" fill="#424242"/>
<rect x="444.0" y="265.0" width="5.0" height="35.0" fill="#424242"/>
<rect x="407.0" y="284.0" width="37.0" height="4.4" fill="#424242"/>
<rect x="406.0" y="284.0" width="5.6" height="123.8" fill="#424242"/>
<rect x="324.0" y="298.0" width="83.0" height="3.6" fill="#424242"/>
<rect x="324.0" y="297.0" width="5.0" height="110.8" fill="#424242"/>
<rect x="329.0" y="346.0" width="37.6" height="5.0" fill="#424242"/>
<rect x="362.0" y="338.0" width="4.6" height="24.0" fill="#424242"/>
<rect x="362.0" y="389.0" width="4.6" height="15.0" fill="#424242"/>
<rect x="256.0" y="402.6" width="124.0" height="5.2" fill="#424242"/>
<rect x="404.0" y="403.0" width="45.0" height="4.8" fill="#424242"/>
<rect x="264.0" y="382.0" width="60.0" height="5.0" fill="#424242"/>
<rect x="263.6" y="261.0" width="5.4" height="122.0" fill="#424242"/>
<rect x="263.6" y="382.0" width="5.4" height="22.0" fill="#424242"/>
<rect x="411.0" y="384.0" width="38.0" height="5.0" fill="#424242"/>
<rect x="444.0" y="384.0" width="5.0" height="23.8" fill="#424242"/>
<rect x="444.0" y="322.0" width="5.0" height="28.0" fill="#424242"/>
<rect x="444.0" y="371.0" width="5.0" height="18.0" fill="#424242"/>
<rect x="268.0" y="265.6" width="34.0" height="4.4" fill="#424242"/>
<rect x="383.0" y="301.0" width="2.5" height="39.0" fill="#424242"/>
<rect x="381.5" y="339.2" width="6.5" height="2.5" fill="#424242"/>
<rect x="403.6" y="338.8" width="3.0" height="3.2" fill="#424242"/>
<rect x="377.60" y="301.60" width="5.40" height="5.80" fill="#fff" stroke="#424242" stroke-width="1.2"/>
<rect x="494.0" y="265.0" width="51.0" height="5.0" fill="#424242"/>
<rect x="494.0" y="265.0" width="5.0" height="35.0" fill="#424242"/>
<rect x="533.6" y="265.0" width="5.4" height="142.8" fill="#424242"/>
<rect x="499.0" y="283.0" width="35.0" height="4.6" fill="#424242"/>
<rect x="494.0" y="322.0" width="5.0" height="28.0" fill="#424242"/>
<rect x="494.0" y="371.0" width="5.0" height="36.8" fill="#424242"/>
<rect x="494.0" y="403.0" width="46.0" height="4.8" fill="#424242"/>
<rect x="494.0" y="384.0" width="44.0" height="5.0" fill="#424242"/>
<rect x="225.0" y="273.0" width="3.0" height="62.0" fill="#424242"/>
<rect x="225.0" y="273.0" width="4.6" height="2.0" fill="#424242"/>
<rect x="244.0" y="273.0" width="20.0" height="2.4" fill="#424242"/>
<rect x="116.4" y="334.0" width="147.6" height="5.0" fill="#424242"/>
<rect x="256.70" y="329.70" width="7.20" height="5.00" fill="#fff" stroke="#424242" stroke-width="1.4"/>
<rect x="256.70" y="339.10" width="7.20" height="11.20" fill="#fff" stroke="#424242" stroke-width="1.4"/>
<rect x="220.0" y="339.0" width="2.6" height="41.0" fill="#424242"/>
<rect x="209.0" y="378.0" width="24.0" height="3.0" fill="#424242"/>
<rect x="247.0" y="378.0" width="17.0" height="3.0" fill="#424242"/>
<rect x="228.6" y="402.0" width="5.6" height="34.4" fill="#424242"/>
<rect x="230.8" y="436.2" width="4.2" height="4.2" fill="#424242"/>
<rect x="228.6" y="436.0" width="2.6" height="37.0" fill="#424242"/>
<rect x="116.4" y="418.0" width="113.6" height="4.6" fill="#424242"/>
<rect x="129.0" y="415.9" width="16.8" height="9.7" fill="#424242"/>
<rect x="188.0" y="422.0" width="3.0" height="53.0" fill="#424242"/>
<rect x="188.0" y="470.0" width="16.0" height="3.0" fill="#424242"/>
<rect x="218.0" y="470.0" width="13.0" height="3.0" fill="#424242"/>
<rect x="228.0" y="440.0" width="3.0" height="33.0" fill="#424242"/>
<rect x="220.70" y="422.30" width="7.20" height="6.20" fill="#fff" stroke="#424242" stroke-width="1.4"/>
<rect x="127.0" y="492.0" width="63.6" height="4.0" fill="#424242"/>
<rect x="127.0" y="484.0" width="2.4" height="12.0" fill="#424242"/>
<rect x="116.4" y="483.0" width="13.0" height="2.6" fill="#424242"/>
<rect x="188.0" y="490.0" width="2.6" height="6.0" fill="#424242"/>
<rect x="256.0" y="436.2" width="192.0" height="4.8" fill="#424242"/>
<rect x="259.35" y="440.75" width="11.30" height="7.10" fill="#fff" stroke="#424242" stroke-width="1.5"/>
<rect x="270.1" y="441.0" width="2.6" height="31.8" fill="#424242"/>
<rect x="270.1" y="470.8" width="7.5" height="2.0" fill="#424242"/>
<rect x="231.0" y="494.0" width="46.0" height="2.5" fill="#424242"/>
<rect x="247.10" y="496.30" width="6.80" height="10.60" fill="#fff" stroke="#424242" stroke-width="1.4"/>
<rect x="254.0" y="496.0" width="2.6" height="44.0" fill="#424242"/>
<rect x="254.0" y="539.0" width="7.6" height="15.6" fill="#424242"/>
<rect x="256.6" y="554.0" width="3.0" height="13.4" fill="#424242"/>
<rect x="292.0" y="470.8" width="28.4" height="2.0" fill="#424242"/>
<rect x="317.7" y="441.0" width="2.6" height="34.2" fill="#424242"/>
<rect x="317.7" y="492.0" width="2.6" height="75.4" fill="#424242"/>
<rect x="338.0" y="480.0" width="40.0" height="3.0" fill="#424242"/>
<rect x="338.0" y="471.0" width="2.4" height="12.0" fill="#424242"/>
<rect x="336.2" y="471.0" width="2.2" height="1.6" fill="#424242"/>
<rect x="340.35" y="471.75" width="6.70" height="9.10" fill="#fff" stroke="#424242" stroke-width="1.5"/>
<rect x="292.6" y="494.0" width="27.4" height="2.5" fill="#424242"/>
<rect x="377.0" y="441.0" width="5.0" height="126.4" fill="#424242"/>
<rect x="375.1" y="538.0" width="9.6" height="16.7" fill="#424242"/>
<rect x="382.0" y="474.0" width="20.0" height="3.0" fill="#424242"/>
<rect x="417.0" y="474.0" width="20.0" height="3.0" fill="#424242"/>
<rect x="436.2" y="441.0" width="2.8" height="46.0" fill="#424242"/>
<rect x="436.2" y="484.3" width="14.0" height="2.7" fill="#424242"/>
<rect x="447.6" y="484.3" width="2.6" height="5.7" fill="#424242"/>
<rect x="447.6" y="507.0" width="2.6" height="46.6" fill="#424242"/>
<rect x="447.6" y="551.0" width="15.0" height="2.6" fill="#424242"/>
<rect x="460.0" y="551.0" width="2.6" height="16.4" fill="#424242"/>
<rect x="438.75" y="440.75" width="6.10" height="12.10" fill="#fff" stroke="#424242" stroke-width="1.5"/>
<rect x="444.6" y="436.2" width="3.4" height="17.4" fill="#424242"/>
<rect x="444.6" y="449.6" width="33.4" height="4.0" fill="#424242"/>
<rect x="474.2" y="436.2" width="3.8" height="17.4" fill="#424242"/>
<rect x="477.75" y="440.75" width="6.10" height="12.10" fill="#fff" stroke="#424242" stroke-width="1.5"/>
<rect x="483.7" y="441.0" width="2.6" height="43.9" fill="#424242"/>
<rect x="474.2" y="436.2" width="27.4" height="4.8" fill="#424242"/>
<rect x="523.0" y="436.0" width="135.0" height="5.0" fill="#424242"/>
<rect x="654.0" y="434.0" width="5.0" height="8.0" fill="#424242"/>
<rect x="538.0" y="441.0" width="3.0" height="15.0" fill="#424242"/>
<rect x="538.0" y="471.0" width="3.0" height="17.0" fill="#424242"/>
<rect x="538.0" y="504.0" width="3.0" height="36.0" fill="#424242"/>
<rect x="538.0" y="539.0" width="8.0" height="15.6" fill="#424242"/>
<rect x="541.0" y="554.0" width="3.0" height="13.4" fill="#424242"/>
<rect x="541.15" y="440.75" width="8.90" height="7.30" fill="#fff" stroke="#424242" stroke-width="1.5"/>
<rect x="538.0" y="473.6" width="130.0" height="2.4" fill="#424242"/>
<rect x="601.0" y="441.0" width="5.0" height="122.4" fill="#424242"/>
<rect x="563.0" y="505.0" width="38.0" height="2.6" fill="#424242"/>
<rect x="603.0" y="563.0" width="1.4" height="4.4" fill="#424242"/>
<rect x="616.70" y="440.70" width="6.00" height="10.60" fill="#fff" stroke="#424242" stroke-width="1.4"/>
<rect x="666.4" y="441.0" width="2.6" height="15.0" fill="#424242"/>
<rect x="666.4" y="470.7" width="2.6" height="7.1" fill="#424242"/>
<rect x="658.0" y="441.0" width="11.0" height="2.6" fill="#424242"/>
<rect x="666.4" y="494.6" width="2.6" height="45.4" fill="#424242"/>
<rect x="660.4" y="539.0" width="7.8" height="15.6" fill="#424242"/>
<rect x="663.0" y="554.0" width="3.0" height="13.4" fill="#424242"/>
<circle cx="140.1" cy="129.2" r="6.7" fill="#434343"/>
<circle cx="782" cy="129.2" r="6.7" fill="#434343"/>
<circle cx="140.1" cy="543.6" r="6.7" fill="#434343"/>
<circle cx="782" cy="543.6" r="6.7" fill="#434343"/>
<rect x="140.55" y="38.35" width="94.10" height="56.30" fill="#fff" stroke="#c4c4c4" stroke-width="0.7"/>
<line x1="197.4" y1="38.0" x2="197.4" y2="95.0" stroke="#c4c4c4" stroke-width="0.7"/>
<line x1="197.4" y1="57.4" x2="235.0" y2="57.4" stroke="#c4c4c4" stroke-width="0.7"/>
<line x1="197.4" y1="75.8" x2="235.0" y2="75.8" stroke="#c4c4c4" stroke-width="0.7"/>
<line x1="187.7" y1="95.0" x2="187.7" y2="123.0" stroke="#9a9a9a" stroke-width="0.6"/>
<circle cx="187.6" cy="123.6" r="1.1" fill="#3b3b3b"/>
<text transform="translate(170.3 73.2) scale(0.765 1)" font-size="16" text-anchor="middle" fill="#4a4a4a">0918–2</text>
<text transform="translate(216.0 52.8) scale(0.83 1)" font-size="12.6" text-anchor="middle" fill="#4a4a4a">46,90</text>
<text transform="translate(216.0 71.2) scale(0.83 1)" font-size="12.6" text-anchor="middle" fill="#4a4a4a">68,30</text>
<text transform="translate(216.0 90.0) scale(0.83 1)" font-size="12.6" text-anchor="middle" fill="#4a4a4a">68,30</text>
<text transform="translate(159.3 151.1) scale(0.76 1)" x="-3.19" font-size="10.3" fill="#4a4a4a">1</text>
<text transform="translate(157.7 165.7) scale(0.76 1)" x="-13.09 -8.19 -2.06 1.51 7.37" font-size="10.3" fill="#4a4a4a">21,50</text>
<line x1="148.0" y1="167.3" x2="167.5" y2="167.3" stroke="#adadad" stroke-width="0.7"/>
<text transform="translate(240.0 140.7) scale(0.76 1)" x="-2.86" font-size="10.3" fill="#4a4a4a">4</text>
<text transform="translate(240.0 152.3) scale(0.76 1)" x="-10.79 -4.36 -0.79 5.06" font-size="10.3" fill="#4a4a4a">4,50</text>
<line x1="232.0" y1="153.9" x2="248.0" y2="153.9" stroke="#adadad" stroke-width="0.7"/>
<text transform="translate(279.6 151.3) scale(0.76 1)" x="-2.86" font-size="10.3" fill="#4a4a4a">2</text>
<text transform="translate(279.0 165.7) scale(0.76 1)" x="-14.05 -8.49 -2.06 1.51 7.37" font-size="10.3" fill="#4a4a4a">12,50</text>
<line x1="269.2" y1="167.3" x2="288.8" y2="167.3" stroke="#adadad" stroke-width="0.7"/>
<text transform="translate(212.0 201.3) scale(0.76 1)" x="-2.86" font-size="10.3" fill="#4a4a4a">7</text>
<text transform="translate(212.0 211.3) scale(0.76 1)" x="-10.79 -4.36 -0.79 5.06" font-size="10.3" fill="#4a4a4a">4,70</text>
<line x1="204.0" y1="212.9" x2="220.0" y2="212.9" stroke="#adadad" stroke-width="0.7"/>
<text transform="translate(258.4 206.9) scale(0.76 1)" x="-2.86" font-size="10.3" fill="#4a4a4a">5</text>
<text transform="translate(258.9 218.0) scale(0.76 1)" x="-10.79 -4.36 -0.79 5.06" font-size="10.3" fill="#4a4a4a">7,50</text>
<line x1="250.9" y1="219.6" x2="266.9" y2="219.6" stroke="#adadad" stroke-width="0.7"/>
<text transform="translate(159.0 222.7) scale(0.76 1)" x="-2.86" font-size="10.3" fill="#4a4a4a">3</text>
<text transform="translate(158.0 236.7) scale(0.76 1)" x="-14.05 -8.49 -2.06 1.51 7.37" font-size="10.3" fill="#4a4a4a">12,90</text>
<line x1="148.2" y1="238.3" x2="167.8" y2="238.3" stroke="#adadad" stroke-width="0.7"/>
<text transform="translate(320.0 206.3) scale(0.76 1)" x="-2.86" font-size="10.3" fill="#4a4a4a">6</text>
<text transform="translate(320.0 217.3) scale(0.76 1)" x="-10.79 -4.36 -0.79 5.06" font-size="10.3" fill="#4a4a4a">4,70</text>
<line x1="312.0" y1="218.9" x2="328.0" y2="218.9" stroke="#adadad" stroke-width="0.7"/>
<text transform="translate(235.4 250.7) scale(0.76 1)" x="-2.86" font-size="10.3" fill="#4a4a4a">3</text>
<text transform="translate(235.4 261.1) scale(0.76 1)" x="-10.79 -4.36 -0.79 5.06" font-size="10.3" fill="#4a4a4a">4,50</text>
<line x1="227.4" y1="262.7" x2="243.4" y2="262.7" stroke="#adadad" stroke-width="0.7"/>
<text transform="translate(246.0 297.1) scale(0.76 1)" x="-2.86" font-size="10.3" fill="#4a4a4a">4</text>
<text transform="translate(246.0 309.7) scale(0.76 1)" x="-10.79 -4.36 -0.79 5.06" font-size="10.3" fill="#4a4a4a">5,80</text>
<line x1="238.0" y1="311.3" x2="254.0" y2="311.3" stroke="#adadad" stroke-width="0.7"/>
<text transform="translate(159.0 296.1) scale(0.76 1)" x="-3.19" font-size="10.3" fill="#4a4a4a">1</text>
<text transform="translate(159.0 311.7) scale(0.76 1)" x="-14.05 -8.49 -2.06 1.51 7.37" font-size="10.3" fill="#4a4a4a">19,70</text>
<line x1="149.2" y1="313.3" x2="168.8" y2="313.3" stroke="#adadad" stroke-width="0.7"/>
<text transform="translate(210.0 316.3) scale(0.76 1)" x="-2.86" font-size="10.3" fill="#4a4a4a">2</text>
<text transform="translate(210.0 328.1) scale(0.76 1)" x="-10.79 -4.36 -0.79 5.06" font-size="10.3" fill="#4a4a4a">3,80</text>
<line x1="202.0" y1="329.7" x2="218.0" y2="329.7" stroke="#adadad" stroke-width="0.7"/>
<text transform="translate(241.0 351.1) scale(0.76 1)" x="-2.86" font-size="10.3" fill="#4a4a4a">4</text>
<text transform="translate(241.0 361.7) scale(0.76 1)" x="-10.79 -4.36 -0.79 5.06" font-size="10.3" fill="#4a4a4a">4,20</text>
<line x1="233.0" y1="363.3" x2="249.0" y2="363.3" stroke="#adadad" stroke-width="0.7"/>
<text transform="translate(196.0 361.7) scale(0.76 1)" x="-2.86" font-size="10.3" fill="#4a4a4a">2</text>
<text transform="translate(197.5 372.7) scale(0.76 1)" x="-10.79 -4.36 -0.79 5.06" font-size="10.3" fill="#4a4a4a">3,70</text>
<line x1="189.5" y1="374.3" x2="205.5" y2="374.3" stroke="#adadad" stroke-width="0.7"/>
<text transform="translate(159.0 370.1) scale(0.76 1)" x="-3.19" font-size="10.3" fill="#4a4a4a">1</text>
<text transform="translate(158.0 385.3) scale(0.76 1)" x="-14.05 -8.49 -2.06 1.51 7.37" font-size="10.3" fill="#4a4a4a">18,90</text>
<line x1="148.2" y1="386.9" x2="167.8" y2="386.9" stroke="#adadad" stroke-width="0.7"/>
<text transform="translate(231.0 390.1) scale(0.76 1)" x="-2.86" font-size="10.3" fill="#4a4a4a">3</text>
<text transform="translate(231.0 399.7) scale(0.76 1)" x="-10.17 -3.73 -1.12 4.44" font-size="10.3" fill="#4a4a4a">2,10</text>
<line x1="223.5" y1="401.3" x2="238.5" y2="401.3" stroke="#adadad" stroke-width="0.7"/>
<text transform="translate(208.0 440.7) scale(0.76 1)" x="-2.86" font-size="10.3" fill="#4a4a4a">7</text>
<text transform="translate(208.0 452.1) scale(0.76 1)" x="-10.79 -4.36 -0.79 5.06" font-size="10.3" fill="#4a4a4a">4,90</text>
<line x1="200.0" y1="453.7" x2="216.0" y2="453.7" stroke="#adadad" stroke-width="0.7"/>
<text transform="translate(158.6 463.1) scale(0.76 1)" x="-2.86" font-size="10.3" fill="#4a4a4a">6</text>
<text transform="translate(158.6 477.1) scale(0.76 1)" x="-14.05 -8.49 -2.06 1.51 7.37" font-size="10.3" fill="#4a4a4a">13,00</text>
<line x1="148.8" y1="478.7" x2="168.3" y2="478.7" stroke="#adadad" stroke-width="0.7"/>
<text transform="translate(249.0 471.7) scale(0.76 1)" x="-2.86" font-size="10.3" fill="#4a4a4a">9</text>
<text transform="translate(251.0 481.1) scale(0.76 1)" x="-14.05 -8.49 -2.06 1.51 7.37" font-size="10.3" fill="#4a4a4a">10,90</text>
<line x1="241.2" y1="482.7" x2="260.8" y2="482.7" stroke="#adadad" stroke-width="0.7"/>
<text transform="translate(158.6 520.1) scale(0.76 1)" x="-2.86" font-size="10.3" fill="#4a4a4a">5</text>
<text transform="translate(158.6 534.7) scale(0.76 1)" x="-14.05 -8.49 -2.06 1.51 7.37" font-size="10.3" fill="#4a4a4a">17,20</text>
<line x1="148.8" y1="536.3" x2="168.3" y2="536.3" stroke="#adadad" stroke-width="0.7"/>
<text transform="translate(228.0 520.1) scale(0.76 1)" x="-2.86" font-size="10.3" fill="#4a4a4a">8</text>
<text transform="translate(228.0 535.7) scale(0.76 1)" x="-10.79 -4.36 -0.79 5.06" font-size="10.3" fill="#4a4a4a">7,20</text>
<line x1="220.0" y1="537.3" x2="236.0" y2="537.3" stroke="#adadad" stroke-width="0.7"/>
<text transform="translate(272.4 520.1) scale(0.76 1)" x="-2.86" font-size="10.3" fill="#4a4a4a">4</text>
<text transform="translate(272.4 535.1) scale(0.76 1)" x="-12.80 -8.19 -2.06 0.56 6.12" font-size="10.3" fill="#4a4a4a">11,10</text>
<line x1="263.6" y1="536.7" x2="281.2" y2="536.7" stroke="#adadad" stroke-width="0.7"/>
<text transform="translate(339.0 151.1) scale(0.76 1)" x="-2.86" font-size="10.3" fill="#4a4a4a">2</text>
<text transform="translate(339.0 165.7) scale(0.76 1)" x="-14.05 -8.49 -2.06 1.51 7.37" font-size="10.3" fill="#4a4a4a">12,20</text>
<line x1="329.2" y1="167.3" x2="348.8" y2="167.3" stroke="#adadad" stroke-width="0.7"/>
<text transform="translate(416.4 151.1) scale(0.76 1)" x="-3.19" font-size="10.3" fill="#4a4a4a">1</text>
<text transform="translate(416.4 165.7) scale(0.76 1)" x="-14.05 -8.49 -2.06 1.51 7.37" font-size="10.3" fill="#4a4a4a">17,20</text>
<line x1="406.6" y1="167.3" x2="426.1" y2="167.3" stroke="#adadad" stroke-width="0.7"/>
<text transform="translate(398.0 192.7) scale(0.76 1)" x="-2.86" font-size="10.3" fill="#4a4a4a">4</text>
<text transform="translate(398.0 204.1) scale(0.76 1)" x="-10.79 -4.36 -0.79 5.06" font-size="10.3" fill="#4a4a4a">3,60</text>
<line x1="390.0" y1="205.7" x2="406.0" y2="205.7" stroke="#adadad" stroke-width="0.7"/>
<text transform="translate(439.0 194.3) scale(0.76 1)" x="-2.86" font-size="10.3" fill="#4a4a4a">3</text>
<text transform="translate(439.0 206.1) scale(0.76 1)" x="-10.79 -4.36 -0.79 5.06" font-size="10.3" fill="#4a4a4a">3,80</text>
<line x1="431.0" y1="207.7" x2="447.0" y2="207.7" stroke="#adadad" stroke-width="0.7"/>
<text transform="translate(354.6 205.1) scale(0.76 1)" x="-2.86" font-size="10.3" fill="#4a4a4a">5</text>
<text transform="translate(354.6 215.3) scale(0.76 1)" x="-10.79 -4.36 -0.79 5.06" font-size="10.3" fill="#4a4a4a">4,00</text>
<line x1="346.6" y1="216.9" x2="362.6" y2="216.9" stroke="#adadad" stroke-width="0.7"/>
<text transform="translate(491.0 151.1) scale(0.76 1)" x="-3.19" font-size="10.3" fill="#4a4a4a">1</text>
<text transform="translate(489.0 165.7) scale(0.76 1)" x="-13.09 -8.19 -2.06 1.51 7.37" font-size="10.3" fill="#4a4a4a">21,80</text>
<line x1="479.2" y1="167.3" x2="498.8" y2="167.3" stroke="#adadad" stroke-width="0.7"/>
<text transform="translate(576.0 141.3) scale(0.76 1)" x="-2.86" font-size="10.3" fill="#4a4a4a">3</text>
<text transform="translate(576.0 151.7) scale(0.76 1)" x="-14.05 -8.49 -2.06 1.51 7.37" font-size="10.3" fill="#4a4a4a">10,60</text>
<line x1="566.2" y1="153.3" x2="585.8" y2="153.3" stroke="#adadad" stroke-width="0.7"/>
<text transform="translate(623.0 151.1) scale(0.76 1)" x="-2.86" font-size="10.3" fill="#4a4a4a">2</text>
<text transform="translate(623.0 164.1) scale(0.76 1)" x="-13.42 -7.86 -1.43 1.18 6.74" font-size="10.3" fill="#4a4a4a">14,10</text>
<line x1="613.7" y1="165.7" x2="632.3" y2="165.7" stroke="#adadad" stroke-width="0.7"/>
<text transform="translate(518.0 198.1) scale(0.76 1)" x="-2.86" font-size="10.3" fill="#4a4a4a">5</text>
<text transform="translate(518.0 208.7) scale(0.76 1)" x="-10.79 -4.36 -0.79 5.06" font-size="10.3" fill="#4a4a4a">3,60</text>
<line x1="510.0" y1="210.3" x2="526.0" y2="210.3" stroke="#adadad" stroke-width="0.7"/>
<text transform="translate(486.0 209.1) scale(0.76 1)" x="-2.86" font-size="10.3" fill="#4a4a4a">4</text>
<text transform="translate(487.4 219.3) scale(0.76 1)" x="-10.79 -4.36 -0.79 5.06" font-size="10.3" fill="#4a4a4a">3,60</text>
<line x1="479.4" y1="220.9" x2="495.4" y2="220.9" stroke="#adadad" stroke-width="0.7"/>
<text transform="translate(558.0 213.7) scale(0.76 1)" x="-2.86" font-size="10.3" fill="#4a4a4a">7</text>
<text transform="translate(558.0 223.1) scale(0.76 1)" x="-10.79 -4.36 -0.79 5.06" font-size="10.3" fill="#4a4a4a">5,00</text>
<line x1="550.0" y1="224.7" x2="566.0" y2="224.7" stroke="#adadad" stroke-width="0.7"/>
<text transform="translate(644.0 214.7) scale(0.76 1)" x="-2.86" font-size="10.3" fill="#4a4a4a">6</text>
<text transform="translate(645.6 225.1) scale(0.76 1)" x="-10.79 -4.36 -0.79 5.06" font-size="10.3" fill="#4a4a4a">5,20</text>
<line x1="637.6" y1="226.7" x2="653.6" y2="226.7" stroke="#adadad" stroke-width="0.7"/>
<text transform="translate(695.6 151.1) scale(0.76 1)" x="-2.86" font-size="10.3" fill="#4a4a4a">4</text>
<text transform="translate(695.6 165.7) scale(0.76 1)" x="-10.17 -3.73 -1.12 4.44" font-size="10.3" fill="#4a4a4a">8,10</text>
<line x1="688.1" y1="167.3" x2="703.1" y2="167.3" stroke="#adadad" stroke-width="0.7"/>
<text transform="translate(761.0 150.7) scale(0.76 1)" x="-3.19" font-size="10.3" fill="#4a4a4a">1</text>
<text transform="translate(762.0 160.1) scale(0.76 1)" x="-13.72 -7.86 -1.43 2.14 7.99" font-size="10.3" fill="#4a4a4a">27,70</text>
<line x1="751.8" y1="161.7" x2="772.2" y2="161.7" stroke="#adadad" stroke-width="0.7"/>
<text transform="translate(685.6 207.7) scale(0.76 1)" x="-2.86" font-size="10.3" fill="#4a4a4a">7</text>
<text transform="translate(684.6 217.1) scale(0.76 1)" x="-10.79 -4.36 -0.79 5.06" font-size="10.3" fill="#4a4a4a">4,40</text>
<line x1="676.6" y1="218.7" x2="692.6" y2="218.7" stroke="#adadad" stroke-width="0.7"/>
<text transform="translate(760.6 226.7) scale(0.76 1)" x="-2.86" font-size="10.3" fill="#4a4a4a">3</text>
<text transform="translate(759.6 241.7) scale(0.76 1)" x="-14.05 -8.49 -2.06 1.51 7.37" font-size="10.3" fill="#4a4a4a">12,60</text>
<line x1="749.9" y1="243.3" x2="769.4" y2="243.3" stroke="#adadad" stroke-width="0.7"/>
<text transform="translate(681.0 255.7) scale(0.76 1)" x="-2.86" font-size="10.3" fill="#4a4a4a">5</text>
<text transform="translate(682.0 268.1) scale(0.76 1)" x="-10.79 -4.36 -0.79 5.06" font-size="10.3" fill="#4a4a4a">5,90</text>
<line x1="674.0" y1="269.7" x2="690.0" y2="269.7" stroke="#adadad" stroke-width="0.7"/>
<text transform="translate(760.6 295.7) scale(0.76 1)" x="-2.86" font-size="10.3" fill="#4a4a4a">2</text>
<text transform="translate(761.6 307.7) scale(0.76 1)" x="-14.05 -8.49 -2.06 1.51 7.37" font-size="10.3" fill="#4a4a4a">16,00</text>
<line x1="751.9" y1="309.3" x2="771.4" y2="309.3" stroke="#adadad" stroke-width="0.7"/>
<text transform="translate(686.6 306.7) scale(0.76 1)" x="-2.86" font-size="10.3" fill="#4a4a4a">6</text>
<text transform="translate(678.0 317.7) scale(0.76 1)" x="-10.79 -4.36 -0.79 5.06" font-size="10.3" fill="#4a4a4a">6,40</text>
<line x1="670.0" y1="319.3" x2="686.0" y2="319.3" stroke="#adadad" stroke-width="0.7"/>
<text transform="translate(676.0 353.1) scale(0.76 1)" x="-2.86" font-size="10.3" fill="#4a4a4a">8</text>
<text transform="translate(677.4 363.1) scale(0.76 1)" x="-10.79 -4.36 -0.79 5.06" font-size="10.3" fill="#4a4a4a">4,30</text>
<line x1="669.4" y1="364.7" x2="685.4" y2="364.7" stroke="#adadad" stroke-width="0.7"/>
<text transform="translate(760.6 363.3) scale(0.76 1)" x="-2.86" font-size="10.3" fill="#4a4a4a">4</text>
<text transform="translate(760.6 374.3) scale(0.76 1)" x="-14.05 -8.49 -2.06 1.51 7.37" font-size="10.3" fill="#4a4a4a">17,00</text>
<line x1="750.9" y1="375.9" x2="770.4" y2="375.9" stroke="#adadad" stroke-width="0.7"/>
<text transform="translate(677.4 392.1) scale(0.76 1)" x="-2.86" font-size="10.3" fill="#4a4a4a">7</text>
<text transform="translate(677.4 401.7) scale(0.76 1)" x="-10.17 -3.73 -1.12 4.44" font-size="10.3" fill="#4a4a4a">3,10</text>
<line x1="669.9" y1="403.3" x2="684.9" y2="403.3" stroke="#adadad" stroke-width="0.7"/>
<text transform="translate(760.6 432.7) scale(0.76 1)" x="-2.86" font-size="10.3" fill="#4a4a4a">3</text>
<text transform="translate(762.0 444.3) scale(0.76 1)" x="-14.05 -8.49 -2.06 1.51 7.37" font-size="10.3" fill="#4a4a4a">12,40</text>
<line x1="752.2" y1="445.9" x2="771.8" y2="445.9" stroke="#adadad" stroke-width="0.7"/>
<text transform="translate(693.4 446.3) scale(0.76 1)" x="-2.86" font-size="10.3" fill="#4a4a4a">6</text>
<text transform="translate(693.4 457.3) scale(0.76 1)" x="-14.05 -8.49 -2.06 1.51 7.37" font-size="10.3" fill="#4a4a4a">14,00</text>
<line x1="683.6" y1="458.9" x2="703.1" y2="458.9" stroke="#adadad" stroke-width="0.7"/>
<text transform="translate(692.4 520.3) scale(0.76 1)" x="-2.86" font-size="10.3" fill="#4a4a4a">5</text>
<text transform="translate(692.4 533.7) scale(0.76 1)" x="-10.79 -4.36 -0.79 5.06" font-size="10.3" fill="#4a4a4a">7,20</text>
<line x1="684.4" y1="535.3" x2="700.4" y2="535.3" stroke="#adadad" stroke-width="0.7"/>
<text transform="translate(761.0 519.7) scale(0.76 1)" x="-3.19" font-size="10.3" fill="#4a4a4a">1</text>
<text transform="translate(761.0 533.7) scale(0.76 1)" x="-13.72 -7.86 -1.43 2.14 7.99" font-size="10.3" fill="#4a4a4a">24,20</text>
<line x1="750.8" y1="535.3" x2="771.2" y2="535.3" stroke="#adadad" stroke-width="0.7"/>
<text transform="translate(301.4 453.7) scale(0.76 1)" x="-2.86" font-size="10.3" fill="#4a4a4a">3</text>
<text transform="translate(302.4 465.7) scale(0.76 1)" x="-10.79 -4.36 -0.79 5.06" font-size="10.3" fill="#4a4a4a">3,70</text>
<line x1="294.4" y1="467.3" x2="310.4" y2="467.3" stroke="#adadad" stroke-width="0.7"/>
<text transform="translate(360.4 453.7) scale(0.76 1)" x="-2.86" font-size="10.3" fill="#4a4a4a">2</text>
<text transform="translate(361.6 463.7) scale(0.76 1)" x="-10.79 -4.36 -0.79 5.06" font-size="10.3" fill="#4a4a4a">5,50</text>
<line x1="353.6" y1="465.3" x2="369.6" y2="465.3" stroke="#adadad" stroke-width="0.7"/>
<text transform="translate(397.4 453.3) scale(0.76 1)" x="-2.86" font-size="10.3" fill="#4a4a4a">7</text>
<text transform="translate(395.4 463.7) scale(0.76 1)" x="-10.79 -4.36 -0.79 5.06" font-size="10.3" fill="#4a4a4a">5,00</text>
<line x1="387.4" y1="465.3" x2="403.4" y2="465.3" stroke="#adadad" stroke-width="0.7"/>
<text transform="translate(465.0 468.1) scale(0.76 1)" x="-2.86" font-size="10.3" fill="#4a4a4a">4</text>
<text transform="translate(464.0 477.7) scale(0.76 1)" x="-10.79 -4.36 -0.79 5.06" font-size="10.3" fill="#4a4a4a">3,90</text>
<line x1="456.0" y1="479.3" x2="472.0" y2="479.3" stroke="#adadad" stroke-width="0.7"/>
<text transform="translate(339.6 519.7) scale(0.76 1)" x="-3.19" font-size="10.3" fill="#4a4a4a">1</text>
<text transform="translate(339.6 533.7) scale(0.76 1)" x="-14.05 -8.49 -2.06 1.51 7.37" font-size="10.3" fill="#4a4a4a">13,20</text>
<line x1="329.9" y1="535.3" x2="349.4" y2="535.3" stroke="#adadad" stroke-width="0.7"/>
<text transform="translate(423.0 518.7) scale(0.76 1)" x="-2.86" font-size="10.3" fill="#4a4a4a">2</text>
<text transform="translate(423.0 532.3) scale(0.76 1)" x="-14.05 -8.49 -2.06 1.51 7.37" font-size="10.3" fill="#4a4a4a">15,60</text>
<line x1="413.2" y1="533.9" x2="432.8" y2="533.9" stroke="#adadad" stroke-width="0.7"/>
<text transform="translate(481.0 518.7) scale(0.76 1)" x="-3.19" font-size="10.3" fill="#4a4a4a">1</text>
<text transform="translate(479.5 532.5) scale(0.76 1)" x="-14.05 -8.49 -2.06 1.51 7.37" font-size="10.3" fill="#4a4a4a">18,90</text>
<line x1="469.8" y1="534.1" x2="489.2" y2="534.1" stroke="#adadad" stroke-width="0.7"/>
<text transform="translate(516.6 472.3) scale(0.76 1)" x="-2.86" font-size="10.3" fill="#4a4a4a">5</text>
<text transform="translate(516.6 484.3) scale(0.76 1)" x="-10.79 -4.36 -0.79 5.06" font-size="10.3" fill="#4a4a4a">6,30</text>
<line x1="508.6" y1="485.9" x2="524.6" y2="485.9" stroke="#adadad" stroke-width="0.7"/>
<text transform="translate(579.4 458.7) scale(0.76 1)" x="-2.86" font-size="10.3" fill="#4a4a4a">8</text>
<text transform="translate(580.6 469.7) scale(0.76 1)" x="-10.79 -4.36 -0.79 5.06" font-size="10.3" fill="#4a4a4a">5,30</text>
<line x1="572.6" y1="471.3" x2="588.6" y2="471.3" stroke="#adadad" stroke-width="0.7"/>
<text transform="translate(571.0 491.1) scale(0.76 1)" x="-2.86" font-size="10.3" fill="#4a4a4a">6</text>
<text transform="translate(571.0 501.7) scale(0.76 1)" x="-10.79 -4.36 -0.79 5.06" font-size="10.3" fill="#4a4a4a">5,00</text>
<line x1="563.0" y1="503.3" x2="579.0" y2="503.3" stroke="#adadad" stroke-width="0.7"/>
<text transform="translate(559.6 519.7) scale(0.76 1)" x="-2.86" font-size="10.3" fill="#4a4a4a">3</text>
<text transform="translate(559.6 535.7) scale(0.76 1)" x="-10.79 -4.36 -0.79 5.06" font-size="10.3" fill="#4a4a4a">9,00</text>
<line x1="551.6" y1="537.3" x2="567.6" y2="537.3" stroke="#adadad" stroke-width="0.7"/>
<text transform="translate(638.6 457.7) scale(0.76 1)" x="-2.86" font-size="10.3" fill="#4a4a4a">9</text>
<text transform="translate(638.6 469.1) scale(0.76 1)" x="-10.17 -3.73 -1.12 4.44" font-size="10.3" fill="#4a4a4a">5,10</text>
<line x1="631.1" y1="470.7" x2="646.1" y2="470.7" stroke="#adadad" stroke-width="0.7"/>
<text transform="translate(623.0 520.7) scale(0.76 1)" x="-2.86" font-size="10.3" fill="#4a4a4a">2</text>
<text transform="translate(623.0 535.7) scale(0.76 1)" x="-14.05 -8.49 -2.06 1.51 7.37" font-size="10.3" fill="#4a4a4a">14,20</text>
<line x1="613.2" y1="537.3" x2="632.8" y2="537.3" stroke="#adadad" stroke-width="0.7"/>
</svg>
</body></html>
